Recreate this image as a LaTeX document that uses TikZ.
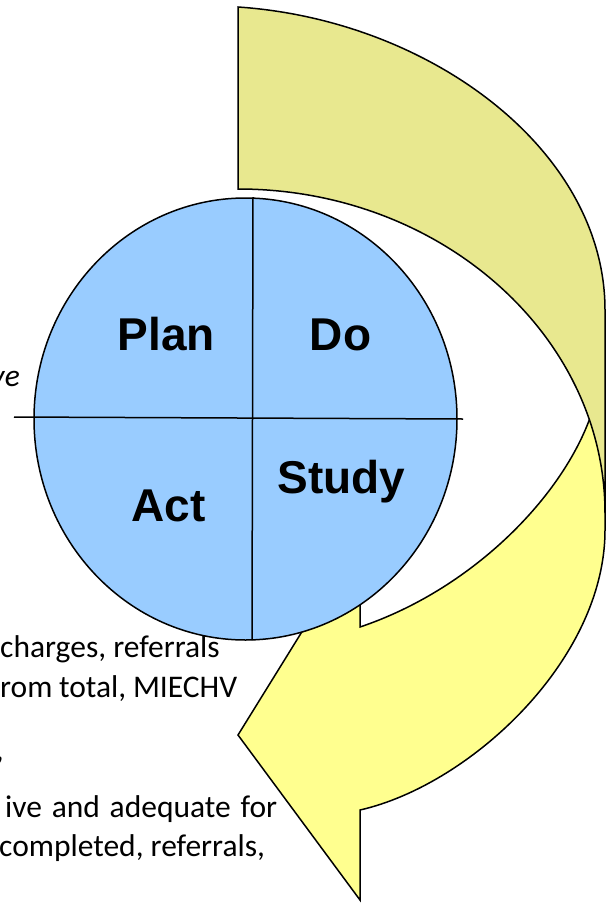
\documentclass[tikz,border=0pt]{standalone}
\usepackage{fontspec}
\setmainfont{Carlito}
\newfontfamily\labelfont{Liberation Sans}
\usetikzlibrary{shapes.geometric}
\definecolor{olivefill}{RGB}{232,232,143}
\definecolor{yellowfill}{RGB}{255,255,143}
\definecolor{bluefill}{RGB}{153,204,255}
\begin{document}
\begin{tikzpicture}[x=1pt,y=-1pt,
  outline/.style={draw=black,line width=1.5pt,line join=miter},
  pdsa/.style={font=\labelfont\bfseries\fontsize{46}{50}\selectfont,anchor=base,inner sep=0pt},
  sidetext/.style={font=\fontsize{31.5}{38}\selectfont,anchor=base west,inner sep=0pt}]
\useasboundingbox (0,0) rectangle (613,905);
\clip (0,0) rectangle (613,905);
% lower (yellow) curved arrow
\path[outline,fill=yellowfill]
  (360,627) -- (360,538) -- (238,735) -- (360,900) -- (360,810)
  .. controls (470,785) and (605,660) .. (605,530)
  -- (605,395) -- (600,395) -- (590,418)
  .. controls (560,500) and (470,590) .. (360,627) -- cycle;
% upper (olive) curved band
\path[outline,fill=olivefill]
  (238,7) .. controls (430,20) and (605,150) .. (605,310)
  -- (605,513) .. controls (605,335) and (440,189) .. (238,189) -- cycle;
% PDSA circle
\node[ellipse,outline,fill=bluefill,minimum width=423pt,minimum height=442pt,inner sep=0pt] (cycle) at (245.5,419) {};
\coordinate (hl) at (14,417);
\coordinate (hr) at (463,419);
\coordinate (vt) at (253,197);
\coordinate (vb) at (252,640);
\draw[outline] (hl) -- (hr);
\draw[outline] (vt) -- (vb);
\node[pdsa] (plan) at (166.5,350) {Plan};
\node[pdsa] (do) at (340.5,350) {Do};
\node[pdsa] (study) at (341.5,493) {Study};
\node[pdsa] (act) at (168.5,521) {Act};
% side text fragments
\node[sidetext,anchor=base east,font=\fontsize{31.5}{38}\selectfont\itshape] (t0) at (20,386) {ve};
\node[sidetext] (t1) at (0,657) {charges, referrals};
\node[sidetext] (t2) at (0,697) {\makebox[237pt][s]{rom\hspace{0pt plus 1fil} total, MIECHV}};
\node[sidetext,anchor=base east] (t3) at (4,760) {,};
\node[sidetext] (t4) at (5,817) {\makebox[272pt][s]{ive and adequate for}};
\node[sidetext] (t5) at (-1,856) {completed, referrals,};
\end{tikzpicture}
\end{document}
